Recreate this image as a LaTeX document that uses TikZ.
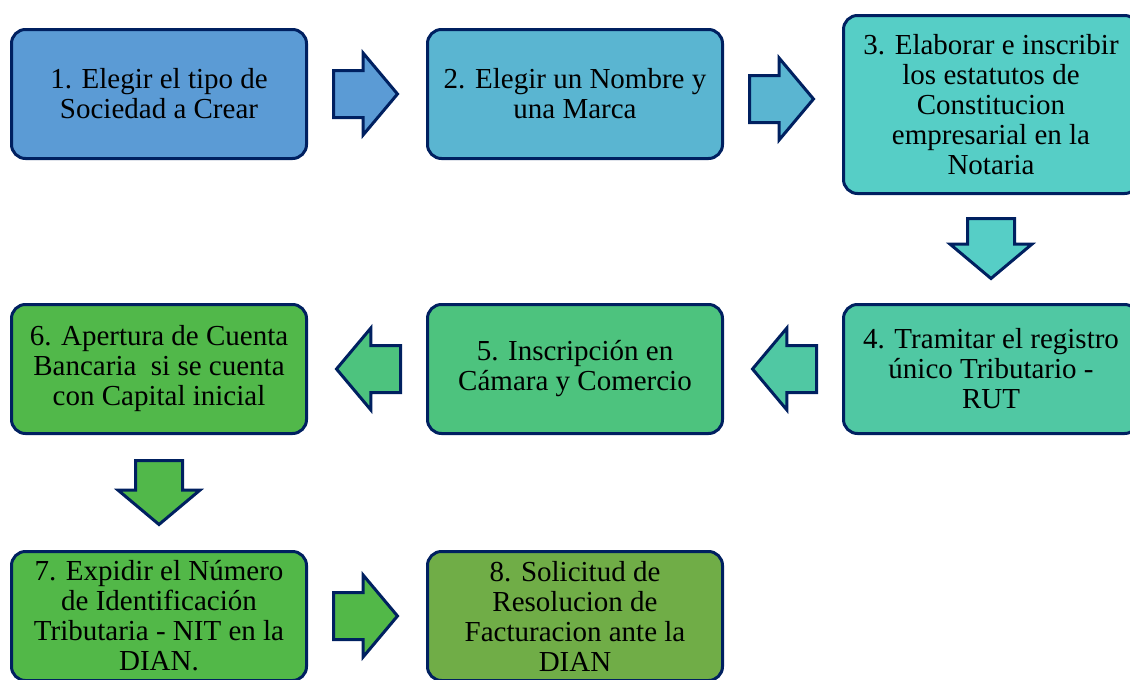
\documentclass[tikz,border=0pt]{standalone}
\usepackage{fontspec}
\setmainfont{Liberation Serif}
\usetikzlibrary{shapes,arrows,positioning,calc}

\definecolor{navy}{HTML}{002060}
\definecolor{cuno}{HTML}{5B9BD5}
\definecolor{cdos}{HTML}{5AB5D1}
\definecolor{ctres}{HTML}{56CEC6}
\definecolor{ccuatro}{HTML}{50C8A3}
\definecolor{ccinco}{HTML}{4DC37E}
\definecolor{cseis}{HTML}{51B84A}
\definecolor{csiete}{HTML}{52B848}
\definecolor{cocho}{HTML}{70AD47}

\begin{document}
\begin{tikzpicture}[x=1pt, y=1pt, node distance=118pt,
    paso/.style={draw=navy, line width=3pt, rounded corners=14pt, minimum width=295pt, minimum height=129pt, align=center, inner sep=0pt, font=\fontsize{29}{30}\selectfont},
    flecha/.style={draw=navy, line width=3pt, single arrow, minimum height=64pt, single arrow head extend=17.5pt, single arrow tip angle=100, inner xsep=0pt, inner ysep=22pt, anchor=tail}]
    \useasboundingbox (0,0) rectangle (1130,-680);
    \clip (0,0) rectangle (1130,-680);

    % pasos
    \node [paso, fill=cuno] (b1) at (159,-94) {1. Elegir el tipo de\\Sociedad a Crear};
    \node [paso, fill=cdos, right=of b1] (b2) {2. Elegir un Nombre y\\una Marca};
    \node [paso, fill=ctres, minimum height=178pt, right=of b2, yshift=-10.5pt] (b3) {3. Elaborar e inscribir\\los estatutos de\\Constitucion\\empresarial en la\\Notaria};
    \node [paso, fill=ccuatro, below=108pt of b3] (b4) {4. Tramitar el registro\\único Tributario -\\RUT};
    \node [paso, fill=ccinco, left=of b4] (b5) {5. Inscripción en\\Cámara y Comercio};
    \node [paso, fill=cseis, left=of b5] (b6) {6. Apertura de Cuenta\\Bancaria\ \ si se cuenta\\con Capital inicial};
    \node [paso, fill=csiete, below=115pt of b6] (b7) {7. Expidir el Número\\de Identificación\\Tributaria - NIT en la\\DIAN.};
    \node [paso, fill=cocho, right=of b7] (b8) {8. Solicitud de\\Resolucion de\\Facturacion ante la\\DIAN};

    % flechas
    \node [right=24pt of b1, flecha, fill=cuno] (f12) {};
    \node [right=24pt of b2, flecha, fill=cdos, yshift=-5pt] (f23) {};
    \node [below=22pt of b3, flecha, fill=ctres, rotate=-90, minimum height=60pt] (f34) {};
    \node [left=24pt of b4, flecha, fill=ccuatro, rotate=180] (f45) {};
    \node [left=24pt of b5, flecha, fill=ccinco, rotate=180] (f56) {};
    \node [below=24pt of b6, flecha, fill=cseis, rotate=-90] (f67) {};
    \node [right=24pt of b7, flecha, fill=csiete] (f78) {};
\end{tikzpicture}
\end{document}
